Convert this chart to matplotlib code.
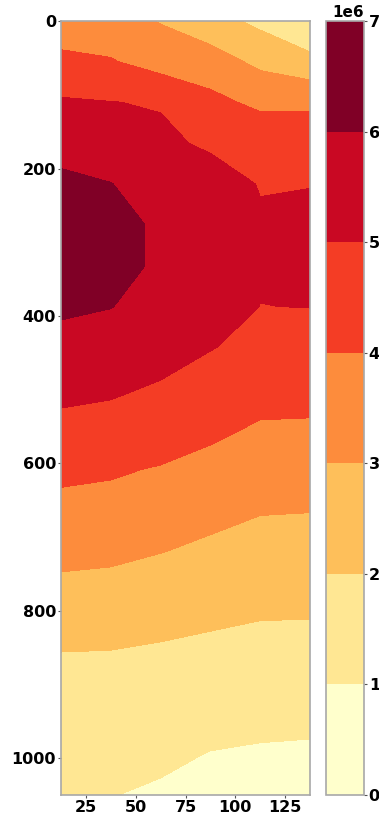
import matplotlib

matplotlib.use("Agg")
import matplotlib.pyplot as plt
import numpy as np

# grid: x columns and depth rows
x_pos = [12.5, 37.5, 62.5, 87.5, 112.5, 137.5]
depth = [0, 55, 110, 166, 221, 276, 332, 387, 442, 497,
         553, 608, 663, 718, 774, 829, 884, 939, 995, 1050]

# values per column, in units of 1e6 (top -> bottom)
col_12 = [3.50, 4.21, 5.11, 5.60, 6.25, 6.50, 6.45, 6.15, 5.70, 5.25,
          4.75, 4.20, 3.75, 3.25, 2.77, 2.25, 1.74, 1.50, 1.30, 1.10]
col_37 = [3.40, 4.07, 5.02, 5.50, 6.02, 6.30, 6.30, 6.02, 5.65, 5.15,
          4.65, 4.10, 3.72, 3.20, 2.70, 2.20, 1.75, 1.45, 1.20, 1.02]
col_62 = [2.95, 3.60, 4.93, 5.20, 5.60, 5.86, 5.86, 5.70, 5.40, 4.91,
          4.50, 3.94, 3.55, 3.04, 2.47, 2.10, 1.68, 1.40, 1.15, 0.89]
col_87 = [2.39, 3.44, 4.26, 4.85, 5.47, 5.70, 5.72, 5.50, 5.05, 4.55,
          4.20, 3.70, 3.30, 2.81, 2.40, 1.99, 1.70, 1.30, 0.97, 0.80]
col_112 = [1.78, 2.78, 3.78, 4.75, 4.95, 5.11, 5.10, 4.99, 4.70, 4.40,
           3.89, 3.45, 3.05, 2.69, 2.35, 1.86, 1.60, 1.30, 0.88, 0.75]
col_137 = [1.02, 2.31, 3.84, 4.55, 4.96, 5.33, 5.30, 5.02, 4.52, 4.25,
           3.91, 3.45, 3.03, 2.60, 2.30, 1.86, 1.60, 1.30, 0.82, 0.70]

levels = [0, 1e6, 2e6, 3e6, 4e6, 5e6, 6e6, 7e6]

values = np.column_stack([col_12, col_37, col_62, col_87, col_112, col_137]) * 1e6
X, Y = np.meshgrid(x_pos, depth)

fig = plt.figure(figsize=(3.79, 8.15), dpi=100)
ax = fig.add_axes([0.161, 0.0245, 0.657, 0.9495])
cax = fig.add_axes([0.860, 0.0245, 0.100, 0.9495])

# band colours run from the lightest to the darkest end of the map
cs = ax.contourf(X, Y, values, levels=levels, cmap="YlOrRd", vmin=0.5e6, vmax=6.5e6)
ax.set_ylim(max(depth), 0)
ax.set_yticks([0, 200, 400, 600, 800, 1000])
ax.set_xticks([25, 50, 75, 100, 125])

cb = fig.colorbar(cs, cax=cax)

for a in (ax, cax):
    for sp in a.spines.values():
        sp.set_color("#a8a8a8")
        sp.set_linewidth(1.2)
    a.tick_params(labelsize=11.5, color="#555555", length=2, pad=1.5)
    for lab in a.get_xticklabels() + a.get_yticklabels():
        lab.set_fontweight("bold")
cb.outline.set_edgecolor("#a8a8a8")
cb.outline.set_linewidth(1.2)
off = cax.yaxis.get_offset_text()
off.set_fontweight("bold")
off.set_fontsize(11)

fig.savefig("out.png", dpi=100, facecolor="white")
plt.close(fig)
